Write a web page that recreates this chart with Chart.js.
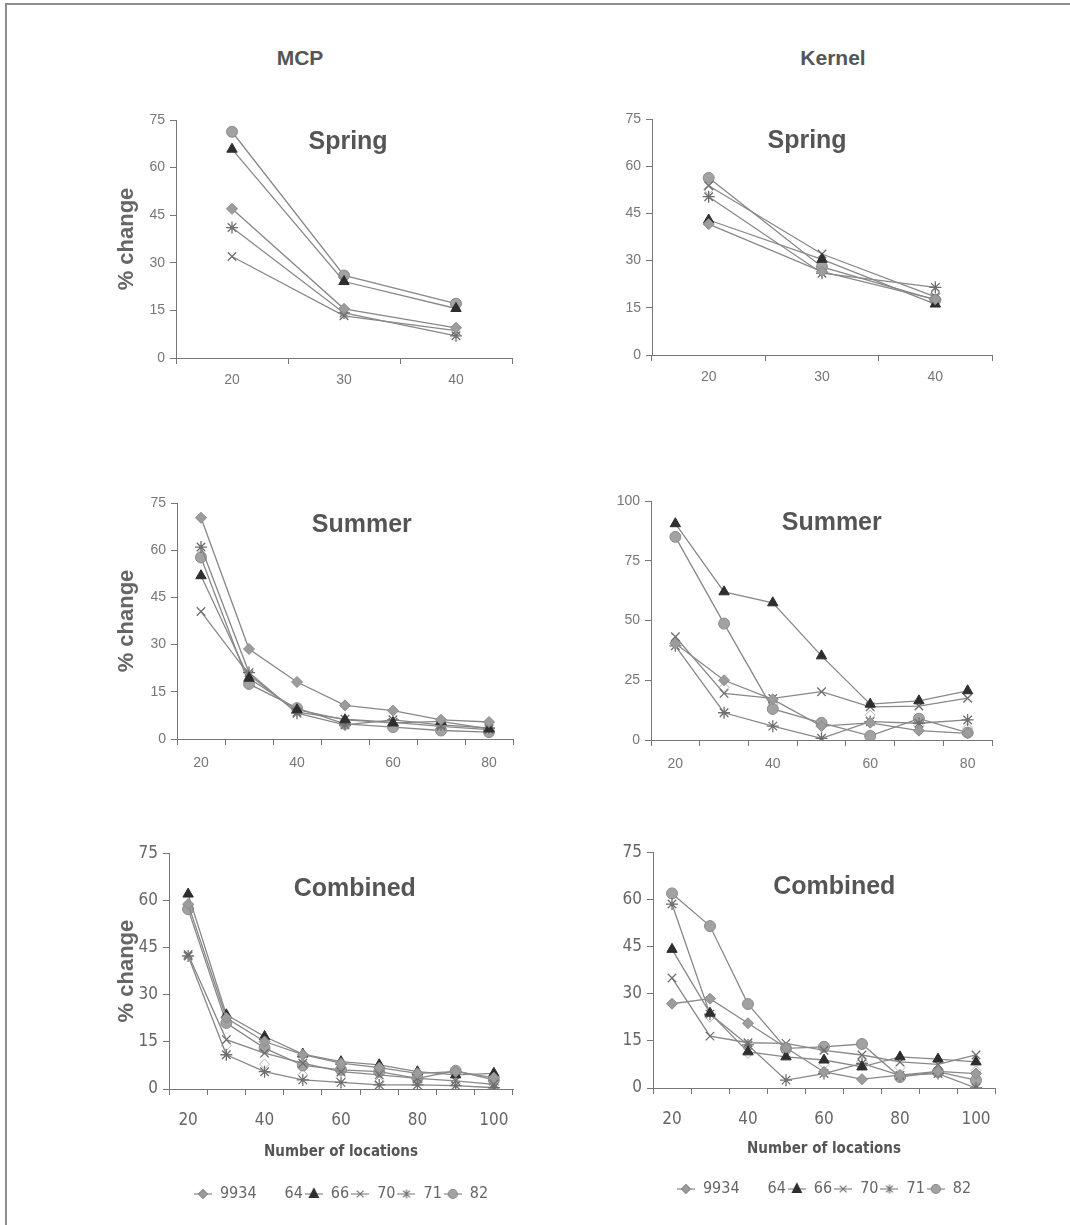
<!DOCTYPE html>
<html>
<head>
<meta charset="utf-8">
<script src="https://cdn.jsdelivr.net/npm/chart.js@4"></script>
<style>
  body { margin: 0; background: #fff; width: 1070px; height: 1225px; overflow: hidden; position: relative; font-family: "Liberation Sans", Arial, sans-serif; }
  #frame { position: absolute; left: 5px; top: 3px; width: 1200px; height: 1400px; border: 2px solid #8e8e8e; }
  .col-title { position: absolute; font-weight: bold; font-size: 21px; color: #555; transform: translate(-50%, -50%); }
  canvas { position: absolute; }
</style>
</head>
<body>
<div id="frame"></div>
<div class="col-title" style="left:300px; top:58px">MCP</div>
<div class="col-title" style="left:833px; top:58px">Kernel</div>
<canvas id="mcpSpring"></canvas>
<canvas id="kerSpring"></canvas>
<canvas id="mcpSummer"></canvas>
<canvas id="kerSummer"></canvas>
<canvas id="mcpCombined"></canvas>
<canvas id="kerCombined"></canvas>
<script>
const seriesNames = ["9934", "64", "66", "70", "71", "82"];

const springX = [20, 30, 40];
const summerX = [20, 30, 40, 50, 60, 70, 80];
const combinedX = [20, 30, 40, 50, 60, 70, 80, 90, 100];
const springTicks = [20, 30, 40];
const summerTicks = [20, 40, 60, 80];
const combinedTicks = [20, 40, 60, 80, 100];

// MCP - spring
const mcpSpring9934 = [47, 15.5, 9.5];
const mcpSpring64 = [null, null, null];
const mcpSpring66 = [65.8, 24.1, 15.6];
const mcpSpring70 = [32, 13.3, 8.6];
const mcpSpring71 = [41.1, 14.2, 7];
const mcpSpring82 = [71.3, 26, 17.1];

// Kernel - spring
const kerSpring9934 = [41.6, 26.5, 17.7];
const kerSpring64 = [52.6, 27.5, 19.5];
const kerSpring66 = [42.9, 30.4, 16.2];
const kerSpring70 = [53.8, 32.1, 18.5];
const kerSpring71 = [50.3, 26, 21.5];
const kerSpring82 = [56.3, 28, 17.5];

// MCP - summer
const mcpSummer9934 = [70.3, 28.6, 18.1, 10.7, 9.0, 6.1, 5.4];
const mcpSummer64 = [58.7, 18.7, 8.8, 5.3, 4.2, 3.2, 2.7];
const mcpSummer66 = [51.9, 19.3, 9.3, 6.1, 5.1, 5.6, 3.2];
const mcpSummer70 = [40.5, 20.4, 8.5, 6.3, 5.3, 4.0, 3.0];
const mcpSummer71 = [61, 21.1, 8.2, 4.5, 6.1, 4.5, 3.5];
const mcpSummer82 = [57.7, 17.5, 9.8, 4.8, 3.8, 2.7, 2.2];

// Kernel - summer
const kerSummer9934 = [40.4, 25, 17, 5.8, 7.2, 3.9, 2.8];
const kerSummer64 = [41, 22, 15, 6, 10.4, 6, 5];
const kerSummer66 = [90.5, 62, 57.4, 35.2, 15, 16.4, 20.6];
const kerSummer70 = [43.2, 19.5, 17.4, 20.2, 13.9, 14.2, 17.5];
const kerSummer71 = [39.4, 11.4, 5.8, 0.7, 7.7, 7, 8.4];
const kerSummer82 = [85, 48.7, 13, 7.2, 1.7, 8.9, 3.1];

// MCP - combined
const mcpCombined9934 = [58.8, 22.6, 15.1, 10.9, 8.2, 6.8, 5, 5.5, 3.6];
const mcpCombined64 = [58.3, 13.8, 7.9, 4.5, 3.6, 2.3, 2.1, 1.8, 1.3];
const mcpCombined66 = [62, 23.6, 16.7, 11.1, 8.7, 7.7, 5.5, 4.5, 5];
const mcpCombined70 = [42.8, 15.7, 11.4, 8.2, 5.5, 4.5, 3.4, 2.6, 1.5];
const mcpCombined71 = [42.3, 10.9, 5.5, 2.9, 2.1, 1.3, 1.3, 1.1, 0.4];
const mcpCombined82 = [57.2, 21, 13, 7.5, 6.1, 5.5, 3.4, 5.8, 2.9];

// Kernel - combined
const kerCombined9934 = [26.8, 28.4, 20.6, 12.8, 5.1, 2.8, 4.1, 5.3, 4.6];
const kerCombined64 = [null, 22.5, 11, 11.5, 7.5, 8.5, 6.5, 6, 5.5];
const kerCombined66 = [44.1, 23.8, 11.5, 9.9, 8.9, 6.7, 9.9, 9.2, 8.3];
const kerCombined70 = [35, 16.5, 14.4, 14.2, 12, 10.5, 8.3, 7.5, 10.5];
const kerCombined71 = [58.5, 23.5, 13.7, 2.5, 4.6, 7.8, 4, 4.6, 0];
const kerCombined82 = [61.9, 51.5, 26.7, 12.6, 13.1, 14, 3.5, 5.1, 2.5];

// marker look per series, same order as seriesNames
const seriesStyles = [
  { pointStyle: "rectRot", line: "#888", border: "#8a8a8a", fill: "#9c9c9c", radius: 5.5 },
  { pointStyle: "rectRot", line: "#fff", border: "#b4b4b4", fill: "#fff", radius: 5 },
  { pointStyle: "triangle", line: "#888", border: "#2e2e2e", fill: "#2e2e2e", radius: 6 },
  { pointStyle: "crossRot", line: "#888", border: "#6e6e6e", fill: "#6e6e6e", radius: 6 },
  { pointStyle: "star", line: "#888", border: "#6e6e6e", fill: "#6e6e6e", radius: 6 },
  { pointStyle: "circle", line: "#888", border: "#8c8c8c", fill: "#a2a2a2", radius: 5.5 },
];

const sansFont = '"Liberation Sans", Arial, sans-serif';
const narrowFont = '"Liberation Sans Narrow", "DejaVu Sans Condensed", Arial, sans-serif';

// small legend symbol: line sample with the marker on it
function legendIcon(i) {
  const s = seriesStyles[i];
  const c = document.createElement("canvas");
  c.width = 18;
  c.height = 14;
  const g = c.getContext("2d");
  if (i === 1) return c;
  const cx = 9, cy = 7, r = 4.5;
  g.strokeStyle = s.line;
  g.lineWidth = 1.2;
  g.beginPath();
  g.moveTo(0, cy);
  g.lineTo(18, cy);
  g.stroke();
  g.fillStyle = s.fill;
  g.strokeStyle = s.border;
  g.beginPath();
  if (s.pointStyle === "rectRot") {
    g.moveTo(cx, cy - r); g.lineTo(cx + r, cy); g.lineTo(cx, cy + r); g.lineTo(cx - r, cy); g.closePath();
    g.fill(); g.stroke();
  } else if (s.pointStyle === "triangle") {
    g.moveTo(cx, cy - r - 1); g.lineTo(cx + r, cy + r - 1); g.lineTo(cx - r, cy + r - 1); g.closePath();
    g.fill(); g.stroke();
  } else if (s.pointStyle === "circle") {
    g.arc(cx, cy, r, 0, Math.PI * 2);
    g.fill(); g.stroke();
  } else {
    const d = r * 0.75;
    g.moveTo(cx - d, cy - d); g.lineTo(cx + d, cy + d);
    g.moveTo(cx + d, cy - d); g.lineTo(cx - d, cy + d);
    if (s.pointStyle === "star") {
      g.moveTo(cx, cy - r); g.lineTo(cx, cy + r);
    }
    g.stroke();
  }
  return c;
}
const legendIcons = seriesNames.map((n, i) => legendIcon(i));

const panelTitle = {
  id: "panelTitle",
  beforeDatasetsDraw(chart, args, opts) {
    const { ctx, chartArea } = chart;
    ctx.save();
    ctx.font = "bold 25px " + sansFont;
    ctx.fillStyle = "#555";
    ctx.textAlign = "center";
    ctx.textBaseline = "middle";
    ctx.fillText(opts.text, chartArea.left + chartArea.width * opts.fx, chartArea.top + opts.dy);
    ctx.restore();
  },
};

const panels = [
  { id: "mcpSpring", title: "Spring", labels: springX, ticks: springTicks, yMax: 75, yStep: 15,
    series: [mcpSpring9934, mcpSpring64, mcpSpring66, mcpSpring70, mcpSpring71, mcpSpring82],
    L: 176, T: 120, R: 512, B: 358, left: true, row: 0, fx: 0.512, dy: 22 },
  { id: "kerSpring", title: "Spring", labels: springX, ticks: springTicks, yMax: 75, yStep: 15,
    series: [kerSpring9934, kerSpring64, kerSpring66, kerSpring70, kerSpring71, kerSpring82],
    L: 652, T: 119, R: 992, B: 355, left: false, row: 0, fx: 0.456, dy: 22 },
  { id: "mcpSummer", title: "Summer", labels: summerX, ticks: summerTicks, yMax: 75, yStep: 15,
    series: [mcpSummer9934, mcpSummer64, mcpSummer66, mcpSummer70, mcpSummer71, mcpSummer82],
    L: 177, T: 503, R: 513, B: 739, left: true, row: 1, fx: 0.55, dy: 22 },
  { id: "kerSummer", title: "Summer", labels: summerX, ticks: summerTicks, yMax: 100, yStep: 25,
    series: [kerSummer9934, kerSummer64, kerSummer66, kerSummer70, kerSummer71, kerSummer82],
    L: 651, T: 501, R: 992, B: 740, left: false, row: 1, fx: 0.53, dy: 22 },
  { id: "mcpCombined", title: "Combined", labels: combinedX, ticks: combinedTicks, yMax: 75, yStep: 15,
    series: [mcpCombined9934, mcpCombined64, mcpCombined66, mcpCombined70, mcpCombined71, mcpCombined82],
    L: 169, T: 853, R: 513, B: 1087, left: true, row: 2, fx: 0.54, dy: 36, hx: 95, titlePad: 23 },
  { id: "kerCombined", title: "Combined", labels: combinedX, ticks: combinedTicks, yMax: 75, yStep: 15,
    series: [kerCombined9934, kerCombined64, kerCombined66, kerCombined70, kerCombined71, kerCombined82],
    L: 653, T: 852, R: 995, B: 1086, left: false, row: 2, fx: 0.53, dy: 35, hx: 91, titlePad: 21 },
];

function createChart(p) {
  const el = document.getElementById(p.id);
  const bottomRow = p.row === 2;
  const padL = p.left ? 10 : 0;
  const wy = p.left ? p.L - 110 : 60;
  const hx = bottomRow ? p.hx : 40;
  const left = p.L - wy - padL;
  const top = p.T - 15;
  const width = p.R + 20 - left;
  // room left for the legend box under the x axis
  const height = p.B + hx + (bottomRow ? 30 : 0) - top;
  el.width = width;
  el.height = height;
  el.style.left = left + "px";
  el.style.top = top + "px";
  el.style.width = width + "px";
  el.style.height = height + "px";

  const tickFont = bottomRow ? { family: narrowFont, size: 17 } : { family: sansFont, size: 14 };
  const tickColor = bottomRow ? "#666" : "#777";

  const datasets = p.series.map((values, i) => {
    const s = seriesStyles[i];
    return {
      label: seriesNames[i],
      data: values,
      borderColor: s.line,
      borderWidth: i === 1 ? 1.6 : 1.3,
      pointStyle: s.pointStyle,
      pointRadius: s.radius,
      pointBorderColor: s.border,
      pointBackgroundColor: s.fill,
      pointBorderWidth: s.pointStyle === "crossRot" || s.pointStyle === "star" ? 1.3 : 1,
      spanGaps: true,
      tension: 0,
      order: i === 1 ? 1 : 0,
    };
  });

  new Chart(el, {
    type: "line",
    data: { labels: p.labels, datasets: datasets },
    plugins: [panelTitle],
    options: {
      responsive: false,
      animation: false,
      devicePixelRatio: 1,
      layout: { padding: { left: padL, top: 15, right: 20, bottom: 0 } },
      plugins: {
        tooltip: { enabled: false },
        panelTitle: { text: p.title, fx: p.fx, dy: p.dy },
        legend: {
          display: bottomRow,
          position: "bottom",
          fullSize: false,
          labels: {
            usePointStyle: true,
            pointStyleWidth: 18,
            boxHeight: 8,
            padding: 2,
            color: "#666",
            font: { family: narrowFont, size: 16 },
            generateLabels(chart) {
              const items = Chart.defaults.plugins.legend.labels.generateLabels(chart);
              items.sort((a, b) => a.datasetIndex - b.datasetIndex);
              items.forEach((item) => {
                item.pointStyle = legendIcons[item.datasetIndex];
              });
              return items;
            },
          },
        },
      },
      scales: {
        x: {
          type: "category",
          offset: true,
          afterFit(axis) { axis.height = hx; },
          grid: { drawOnChartArea: false, drawTicks: true, tickLength: 6, offset: true, color: "#777" },
          border: { display: true, color: "#777", width: 1 },
          ticks: {
            autoSkip: false,
            maxRotation: 0,
            padding: p.row === 0 ? 8 : p.row === 1 ? 10 : 15,
            color: tickColor,
            font: tickFont,
            callback(value) {
              const lab = this.getLabelForValue(value);
              return p.ticks.includes(Number(lab)) ? String(lab) : "";
            },
          },
          title: {
            display: bottomRow,
            text: "Number of locations",
            color: "#555",
            font: { family: narrowFont, size: 15, weight: "bold" },
            padding: { top: 4, bottom: p.titlePad || 4 },
          },
        },
        y: {
          min: 0,
          max: p.yMax,
          afterFit(axis) { axis.width = wy; },
          grid: { drawOnChartArea: false, drawTicks: true, tickLength: 6, color: "#777" },
          border: { display: true, color: "#777", width: 1 },
          ticks: { stepSize: p.yStep, padding: 5, color: tickColor, font: tickFont },
          title: {
            display: p.left,
            text: "% change",
            color: "#666",
            font: { family: sansFont, size: 22, weight: "bold" },
            padding: { top: 4, bottom: 4 },
          },
        },
      },
    },
  });
}

panels.forEach(createChart);
</script>
</body>
</html>
